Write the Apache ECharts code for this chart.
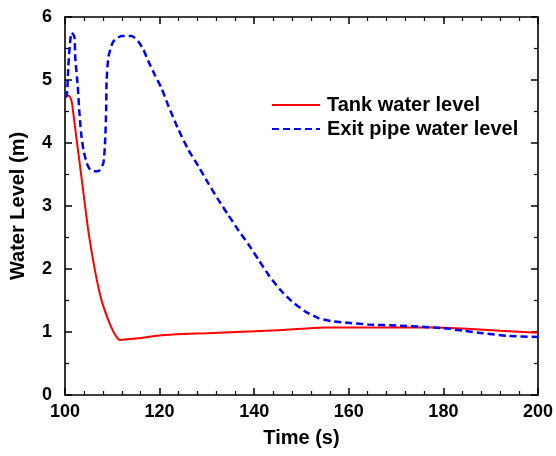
<!DOCTYPE html>
<html>
<head>
<meta charset="utf-8">
<script src="https://cdn.jsdelivr.net/npm/echarts@6/dist/echarts.min.js"></script>
<style>
  html, body { margin: 0; padding: 0; background: #fff; }
  #chart { width: 556px; height: 456px; }
</style>
</head>
<body>
<div id="chart"></div>
<script>
// Tank water level (m) over time (s)
const tankTime  = [100, 100.8, 101.2, 101.5, 102.4, 103.2, 104.1, 104.9, 106.3, 107.7, 109.1, 110.2, 111.0, 111.6, 113, 115.5, 120.4, 125, 130, 140, 150, 155, 170, 178, 185, 192, 200];
const tankLevel = [4.75, 4.75, 4.71, 4.62, 4.09, 3.62, 3.09, 2.62, 1.99, 1.51, 1.20, 1.01, 0.91, 0.875, 0.885, 0.90, 0.95, 0.97, 0.98, 1.01, 1.05, 1.07, 1.07, 1.07, 1.05, 1.02, 0.99];

// Exit pipe water level (m) over time (s)
const pipeTime  = [100, 100.35, 100.7, 101.06, 101.4, 101.97, 102.2, 102.7, 103.0, 103.4, 103.9, 104.6, 105.3, 106.2, 107.0, 108.1, 108.5, 108.7, 108.8, 109.2, 110.2, 112.0, 114.1, 115.5, 116.6, 117.6, 119.0, 120.4, 121.8, 124.0, 126.1, 128.2, 130.3, 132.4, 134.5, 136.6, 138.8, 140.9, 143.0, 145.5, 147.9, 150.7, 153.6, 156.4, 159.2, 164, 170.8, 176.1, 180, 184.2, 188.4, 193.4, 200];
const pipeLevel = [4.74, 4.74, 5.22, 5.59, 5.75, 5.69, 5.32, 4.90, 4.53, 4.16, 3.89, 3.68, 3.58, 3.55, 3.55, 3.68, 4.05, 4.53, 5.0, 5.37, 5.61, 5.70, 5.70, 5.61, 5.48, 5.30, 5.08, 4.87, 4.60, 4.21, 3.89, 3.63, 3.36, 3.10, 2.86, 2.62, 2.39, 2.15, 1.91, 1.67, 1.49, 1.33, 1.22, 1.17, 1.15, 1.12, 1.10, 1.08, 1.06, 1.02, 0.98, 0.94, 0.92];

// Axis ranges and tick steps
const xRange = [100, 200], xStep = 20;
const yRange = [0, 6], yStep = 1;

const pairs = (xs, ys) => xs.map((x, i) => [x, ys[i]]);

const FONT = '"Liberation Sans", Arial, sans-serif';
const axisLine = () => ({ show: true, onZero: false, lineStyle: { color: '#000', width: 1.6 } });
const majorTick = () => ({ show: true, inside: true, length: 7, lineStyle: { color: '#000', width: 1.5 } });
const minorTick = (n) => ({ show: true, splitNumber: n, length: 4, lineStyle: { color: '#000', width: 1.2 } });
const labelStyle = () => ({ show: true, color: '#000', fontFamily: FONT, fontWeight: 'bold', fontSize: 18 });
const titleStyle = () => ({ color: '#000', fontFamily: FONT, fontWeight: 'bold', fontSize: 20 });

const chart = echarts.init(document.getElementById('chart'), null, { renderer: 'canvas' });

chart.setOption({
  backgroundColor: '#fff',
  animation: false,
  grid: { left: 65, right: 18, top: 17, bottom: 61, containLabel: false },
  legend: {
    orient: 'vertical',
    left: 266,
    top: 90,
    itemWidth: 48,
    itemHeight: 20,
    itemGap: 4,
    itemStyle: { opacity: 0 },
    textStyle: { color: '#000', fontFamily: FONT, fontWeight: 'bold', fontSize: 20, padding: [0, 0, 0, 2] },
    data: ['Tank water level', 'Exit pipe water level']
  },
  xAxis: [
    {
      type: 'value', min: xRange[0], max: xRange[1], interval: xStep,
      name: 'Time (s)', nameLocation: 'middle', nameGap: 33,
      nameTextStyle: titleStyle(),
      axisLine: axisLine(), axisTick: majorTick(), minorTick: minorTick(5),
      axisLabel: Object.assign({ margin: 8 }, labelStyle()),
      splitLine: { show: false }
    },
    {
      type: 'value', position: 'top', min: xRange[0], max: xRange[1], interval: xStep,
      axisLine: axisLine(), axisTick: majorTick(), minorTick: minorTick(5),
      axisLabel: { show: false }, splitLine: { show: false }
    }
  ],
  yAxis: [
    {
      type: 'value', min: yRange[0], max: yRange[1], interval: yStep,
      name: 'Water Level (m)', nameLocation: 'middle', nameGap: 37,
      nameTextStyle: titleStyle(),
      axisLine: axisLine(), axisTick: majorTick(), minorTick: minorTick(2),
      axisLabel: Object.assign({ margin: 13 }, labelStyle()),
      splitLine: { show: false }
    },
    {
      type: 'value', position: 'right', min: yRange[0], max: yRange[1], interval: yStep,
      axisLine: axisLine(), axisTick: majorTick(), minorTick: minorTick(2),
      axisLabel: { show: false }, splitLine: { show: false }
    }
  ],
  series: [
    {
      name: 'Tank water level', type: 'line',
      data: pairs(tankTime, tankLevel),
      symbol: 'none', smooth: 0.15,
      lineStyle: { color: '#ff0000', width: 2 },
      itemStyle: { color: '#ff0000' }
    },
    {
      name: 'Exit pipe water level', type: 'line',
      data: pairs(pipeTime, pipeLevel),
      symbol: 'none', smooth: 0.2,
      lineStyle: { color: '#0000ff', width: 2.5, type: [7, 4] },
      itemStyle: { color: '#0000ff' }
    }
  ]
});
</script>
</body>
</html>
